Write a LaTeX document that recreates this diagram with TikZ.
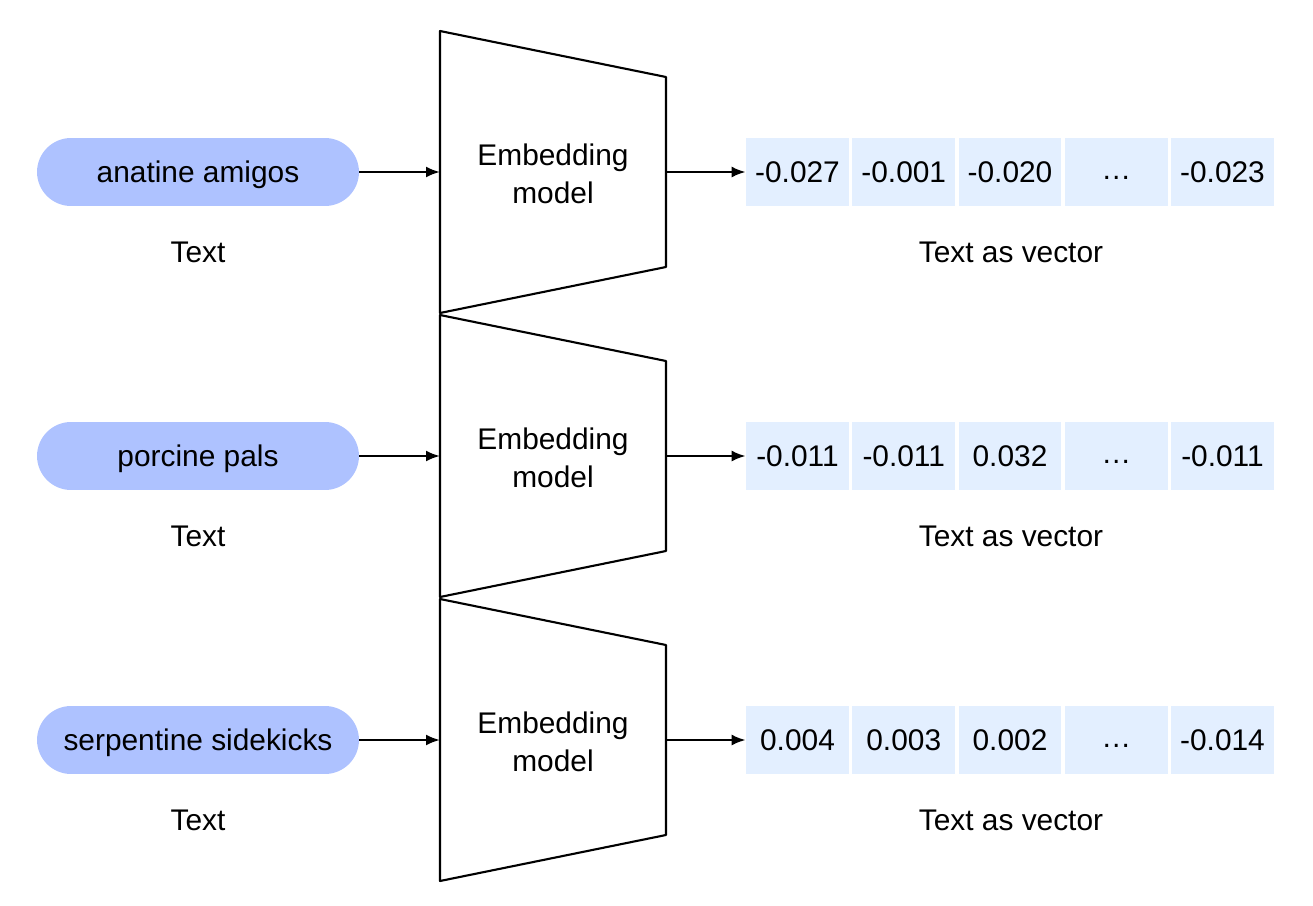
\documentclass[tikz,border=0pt]{standalone}
\usepackage{fontspec}
\setmainfont{Liberation Sans}
\usetikzlibrary{arrows.meta}
\definecolor{pillblue}{RGB}{174,194,255}
\definecolor{cellblue}{RGB}{227,239,255}
\tikzset{
  txt/.style={font=\fontsize{17}{21.5}\selectfont},
  pill/.style={txt, fill=pillblue, rounded corners=0.68cm, minimum width=6.44cm, minimum height=1.36cm,
    text height=13pt, text depth=1pt},
  cell/.style={txt, fill=cellblue, minimum width=2.06cm, minimum height=1.36cm, inner sep=0pt,
    text height=12.2pt, text depth=0pt},
  model/.style={line width=1.2pt, line join=round},
  flow/.style={-{Latex[length=0.28cm,width=0.22cm]}, line width=1.3pt},
}
\begin{document}
\begin{tikzpicture}[x=0.02cm,y=-0.02cm]
  \useasboundingbox (0,0) rectangle (1313,906);
  \foreach \r/\y/\words/\va/\vb/\vc/\ve in {
      1/172/anatine amigos/-0.027/-0.001/-0.020/-0.023,
      2/456/porcine pals/-0.011/-0.011/0.032/-0.011,
      3/740/serpentine sidekicks/0.004/0.003/0.002/-0.014}{
    % input text
    \node[pill] (p\r) at (198,\y) {\words};
    \node[txt] (t\r) at (198,\y+80) {Text};
    % embedding model
    \draw[model] (440,\y-141) -- (666,\y-95) -- (666,\y+95) -- (440,\y+141) -- cycle;
    \coordinate (in\r) at (440,\y);
    \coordinate (out\r) at (666,\y);
    \node[txt, align=center] (m\r) at (553,\y+2) {Embedding\\model};
    % vector
    \foreach \k/\v in {1/\va,2/\vb,3/\vc,4/{\raisebox{2pt}{\dots}},5/\ve}
      \node[cell] (c\r\k) at (797.5+106.25*\k-106.25,\y) {\v};
    \node[txt] (tv\r) at (1011,\y+80) {Text as vector};
    \draw[flow] (p\r.east) -- (in\r);
    \draw[flow] (out\r) -- (c\r1.west);
  }
\end{tikzpicture}
\end{document}
